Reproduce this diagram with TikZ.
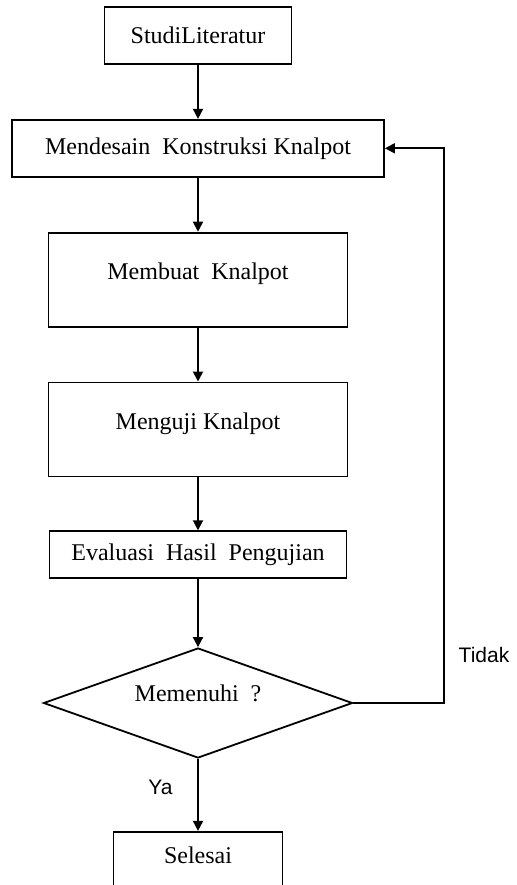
\documentclass[tikz,border=0pt]{standalone}
\usepackage{fontspec}
\setmainfont{Liberation Serif}
\newfontfamily\lblfont{Liberation Sans}
\usetikzlibrary{positioning,arrows.meta,shapes.geometric}

\begin{document}
\begin{tikzpicture}[x=0.5pt,y=-0.5pt,font=\fontsize{12}{14}\selectfont,
  >={Triangle[length=5pt,width=5pt]},
  blk/.style={draw,line width=0.9pt,minimum height=28.5pt,inner sep=2pt,align=center},
  tall/.style={blk,minimum height=47pt,text depth=8.5pt},
  dec/.style={draw,line width=0.9pt,diamond,aspect=2.8,inner sep=0pt,
    minimum width=154.5pt,minimum height=55pt,text depth=10pt},
  lbl/.style={font=\lblfont\fontsize{10.5}{12}\selectfont},
  flow/.style={->,line width=0.9pt}]
  \useasboundingbox (0,0) rectangle (517,885);
  \node[blk,minimum width=93.5pt] (studi) at (198,35.5) {StudiLiteratur};
  \node[blk,below=27pt of studi,minimum width=186pt] (desain)
        {Mendesain\ \ Konstruksi Knalpot};
  \node[tall,below=27pt of desain,minimum width=149.5pt] (buat) {Membuat\ \ Knalpot};
  \node[tall,below=27pt of buat,minimum width=149.5pt] (uji) {Menguji Knalpot};
  \node[blk,below=26.5pt of uji,minimum width=148.5pt,minimum height=23.5pt] (eval)
        {Evaluasi\ \ Hasil\ \ Pengujian};
  \node[dec,below=34pt of eval] (cek) {Memenuhi\ \ ?};
  \node[blk,below=36pt of cek,minimum width=84.5pt,minimum height=28pt,text depth=5pt] (selesai)
        {Selesai};
  \coordinate (balik) at (444,400);
  \draw[flow] (studi) -- (desain);
  \draw[flow] (desain) -- (buat);
  \draw[flow] (buat) -- (uji);
  \draw[flow] (uji) -- (eval);
  \draw[flow] (eval) -- (cek);
  \draw[flow] (cek) -- node[lbl,pos=0.4,left=9pt]{Ya} (selesai);
  \draw[flow] (cek.east) -| (balik) |- (desain.east);
  \node[lbl] (tidak) at (484,655) {Tidak};
\end{tikzpicture}
\end{document}
